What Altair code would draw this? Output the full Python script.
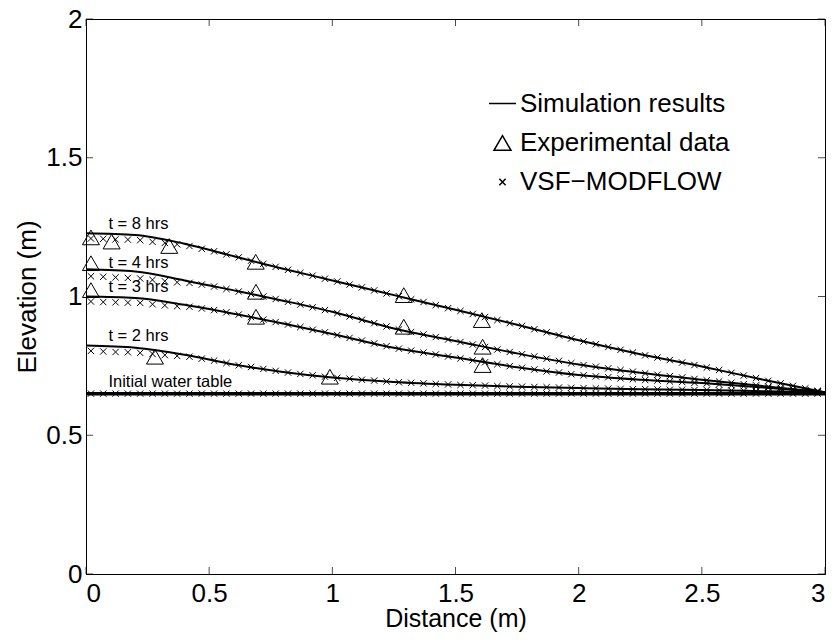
import altair as alt
import pandas as pd

FONT = "Liberation Sans"

# ---- simulation results (solid curves) ----
sim_x = [0.0, 0.2, 0.4, 0.6, 0.8, 1.0, 1.25, 1.5, 1.75, 2.0, 2.25, 2.5, 2.75, 3.0]
sim_t8 = [1.228, 1.222, 1.19, 1.145, 1.10, 1.058, 1.005, 0.952, 0.898, 0.842, 0.792, 0.748, 0.70, 0.655]
sim_t4 = [1.098, 1.09, 1.058, 1.022, 0.985, 0.945, 0.885, 0.84, 0.795, 0.755, 0.725, 0.70, 0.677, 0.655]
sim_t3 = [1.0, 0.995, 0.97, 0.938, 0.903, 0.865, 0.815, 0.78, 0.745, 0.717, 0.70, 0.688, 0.672, 0.655]
sim_t2 = [0.823, 0.815, 0.79, 0.755, 0.728, 0.708, 0.692, 0.682, 0.675, 0.670, 0.666, 0.663, 0.659, 0.655]

# initial water table
wt_x = [0.0, 3.0]
wt_y = [0.65, 0.65]

# ---- VSF-MODFLOW (crosses) ----
vsf_x = [0.02, 0.07, 0.12, 0.17, 0.22, 0.27, 0.32, 0.37, 0.42, 0.47,
         0.52, 0.57, 0.62, 0.67, 0.72, 0.77, 0.82, 0.87, 0.92, 0.97,
         1.02, 1.07, 1.12, 1.17, 1.22, 1.27, 1.32, 1.37, 1.42, 1.47,
         1.52, 1.57, 1.62, 1.67, 1.72, 1.77, 1.82, 1.87, 1.92, 1.97,
         2.02, 2.07, 2.12, 2.17, 2.22, 2.27, 2.32, 2.37, 2.42, 2.47,
         2.52, 2.57, 2.62, 2.67, 2.72, 2.77, 2.82, 2.87, 2.92, 2.97]
vsf_t8 = [1.209, 1.208, 1.206, 1.205, 1.203, 1.197, 1.193, 1.188, 1.182, 1.172,
          1.163, 1.152, 1.141, 1.129, 1.118, 1.107, 1.096, 1.085, 1.075, 1.064,
          1.054, 1.043, 1.033, 1.022, 1.011, 1.001, 0.990, 0.980, 0.969, 0.958,
          0.948, 0.937, 0.926, 0.915, 0.904, 0.894, 0.882, 0.871, 0.860, 0.849,
          0.838, 0.828, 0.818, 0.808, 0.798, 0.788, 0.780, 0.771, 0.762, 0.753,
          0.744, 0.735, 0.725, 0.715, 0.706, 0.696, 0.687, 0.678, 0.669, 0.660]
vsf_t4 = [1.073, 1.071, 1.069, 1.067, 1.065, 1.060, 1.055, 1.051, 1.049, 1.043,
          1.036, 1.027, 1.018, 1.009, 1.000, 0.991, 0.981, 0.971, 0.961, 0.951,
          0.940, 0.928, 0.916, 0.904, 0.892, 0.881, 0.872, 0.863, 0.854, 0.845,
          0.836, 0.827, 0.818, 0.809, 0.800, 0.792, 0.784, 0.776, 0.768, 0.760,
          0.753, 0.747, 0.741, 0.735, 0.729, 0.723, 0.718, 0.713, 0.708, 0.703,
          0.698, 0.694, 0.689, 0.684, 0.680, 0.675, 0.671, 0.666, 0.662, 0.658]
vsf_t3 = [0.982, 0.980, 0.979, 0.978, 0.977, 0.972, 0.968, 0.965, 0.963, 0.957,
          0.951, 0.943, 0.935, 0.926, 0.917, 0.908, 0.899, 0.890, 0.880, 0.871,
          0.861, 0.851, 0.841, 0.831, 0.821, 0.812, 0.805, 0.798, 0.791, 0.784,
          0.777, 0.770, 0.763, 0.756, 0.749, 0.743, 0.737, 0.730, 0.726, 0.720,
          0.716, 0.712, 0.709, 0.705, 0.702, 0.699, 0.697, 0.694, 0.692, 0.689,
          0.687, 0.683, 0.680, 0.677, 0.674, 0.671, 0.667, 0.664, 0.661, 0.657]
vsf_t2 = [0.804, 0.802, 0.800, 0.799, 0.797, 0.793, 0.789, 0.786, 0.783, 0.776,
          0.769, 0.760, 0.752, 0.746, 0.739, 0.732, 0.726, 0.721, 0.716, 0.711,
          0.707, 0.704, 0.700, 0.697, 0.694, 0.691, 0.689, 0.687, 0.685, 0.683,
          0.681, 0.680, 0.679, 0.677, 0.676, 0.675, 0.674, 0.673, 0.672, 0.671,
          0.670, 0.669, 0.668, 0.667, 0.666, 0.666, 0.665, 0.664, 0.664, 0.663,
          0.663, 0.662, 0.661, 0.660, 0.659, 0.658, 0.658, 0.657, 0.656, 0.655]
vsf_wt = [0.65] * len(vsf_x)

# ---- experimental data (triangles) ----
exp_t8_x = [0.02, 0.104, 0.338, 0.689, 1.29, 1.607]
exp_t8_y = [1.213, 1.198, 1.182, 1.125, 1.005, 0.915]
exp_t4_x = [0.02, 0.69, 1.29, 1.61]
exp_t4_y = [1.12, 1.017, 0.891, 0.819]
exp_t3_x = [0.02, 0.69, 1.61]
exp_t3_y = [1.023, 0.927, 0.753]
exp_t2_x = [0.28, 0.99]
exp_t2_y = [0.783, 0.711]

# ---- annotations ----
ann_text = ["t = 8 hrs", "t = 4 hrs", "t = 3 hrs", "t = 2 hrs", "Initial water table"]
ann_x = [0.091, 0.091, 0.091, 0.091, 0.091]
ann_y = [1.261, 1.122, 1.034, 0.858, 0.693]

x_ticks = [0, 0.5, 1, 1.5, 2, 2.5, 3]
y_ticks = [0, 0.5, 1, 1.5, 2]

SERIES = ["Simulation results", "Experimental data", "VSF\u2212MODFLOW"]
CROSS = "M-1,-1L1,1M-1,1L1,-1"

# ---- tables ----
sim_rows = []
for name, ys in [("t8", sim_t8), ("t4", sim_t4), ("t3", sim_t3), ("t2", sim_t2)]:
    for xv, yv in zip(sim_x, ys):
        sim_rows.append({"curve": name, "x": xv, "y": yv})
sim_df = pd.DataFrame(sim_rows)
wt_df = pd.DataFrame({"x": wt_x, "y": wt_y})

pt_rows = []
for ys in [vsf_t8, vsf_t4, vsf_t3, vsf_t2, vsf_wt]:
    for xv, yv in zip(vsf_x, ys):
        pt_rows.append({"series": SERIES[2], "x": xv, "y": yv})
for xs, ys in [(exp_t8_x, exp_t8_y), (exp_t4_x, exp_t4_y), (exp_t3_x, exp_t3_y), (exp_t2_x, exp_t2_y)]:
    for xv, yv in zip(xs, ys):
        pt_rows.append({"series": SERIES[1], "x": xv, "y": yv})
pt_df = pd.DataFrame(pt_rows)

ann_df = pd.DataFrame({"text": ann_text, "x": ann_x, "y": ann_y})
xt_df = pd.DataFrame({"v": x_ticks})
yt_df = pd.DataFrame({"v": y_ticks})

xscale = alt.Scale(domain=[0, 3], nice=False, zero=False)
yscale = alt.Scale(domain=[0, 2], nice=False, zero=False)

X = alt.X("x:Q", scale=xscale, title="Distance (m)",
          axis=alt.Axis(values=x_ticks, format="~g"))
Y = alt.Y("y:Q", scale=yscale, title="Elevation (m)",
          axis=alt.Axis(values=y_ticks, format="~g"))

sim = alt.Chart(sim_df).mark_line(color="black", strokeWidth=2, interpolate="monotone").encode(
    x=X, y=Y, detail="curve:N"
)
wt = alt.Chart(wt_df).mark_line(color="black", strokeWidth=3.5).encode(x=X, y=Y)

leg = alt.Legend(orient="none", legendX=402, legendY=70, title=None, padding=0,
                 labelFont=FONT, labelFontSize=26, labelColor="black", labelLimit=500,
                 labelOffset=3, rowPadding=13, symbolStrokeColor="black",
                 symbolStrokeWidth=1.5, symbolFillColor="transparent")

pts = alt.Chart(pt_df).mark_point(filled=False, color="black", strokeWidth=1, opacity=1).encode(
    x=X, y=Y,
    shape=alt.Shape("series:N", scale=alt.Scale(domain=SERIES, range=["stroke", "triangle-up", CROSS]),
                    legend=leg),
    size=alt.Size("series:N", scale=alt.Scale(type="ordinal", domain=SERIES, range=[729, 289, 40]),
                  legend=leg),
)

ann = alt.Chart(ann_df).mark_text(align="left", baseline="middle", font=FONT, fontSize=16.5,
                                  color="black").encode(
    x=alt.X("x:Q", scale=xscale), y=alt.Y("y:Q", scale=yscale), text="text:N"
)

xt_bot = alt.Chart(xt_df).mark_tick(orient="vertical", size=7, thickness=1, color="black",
                                    yOffset=-3.5).encode(
    x=alt.X("v:Q", scale=xscale), y=alt.datum(0, scale=yscale))
xt_top = alt.Chart(xt_df).mark_tick(orient="vertical", size=7, thickness=1, color="black",
                                    yOffset=3.5).encode(
    x=alt.X("v:Q", scale=xscale), y=alt.datum(2, scale=yscale))
yt_left = alt.Chart(yt_df).mark_tick(orient="horizontal", size=7, thickness=1, color="black",
                                     xOffset=3.5).encode(
    y=alt.Y("v:Q", scale=yscale), x=alt.datum(0, scale=xscale))
yt_right = alt.Chart(yt_df).mark_tick(orient="horizontal", size=7, thickness=1, color="black",
                                      xOffset=-3.5).encode(
    y=alt.Y("v:Q", scale=yscale), x=alt.datum(3, scale=xscale))

chart = alt.layer(wt, sim, pts, ann, xt_bot, xt_top, yt_left, yt_right).properties(
    width=739, height=555,
    autosize=alt.AutoSizeParams(type="none"),
    padding={"left": 78, "top": 11, "right": 4, "bottom": 59},
    background="white",
).configure_view(
    stroke="black", strokeWidth=1
).configure_axis(
    grid=False, ticks=False, domainColor="black", domainWidth=1,
    labelFont=FONT, labelFontSize=26, labelColor="black",
    titleFont=FONT, titleFontSize=26, titleFontWeight="normal", titleColor="black",
).configure_axisX(
    labelPadding=6, titlePadding=0, titleFontSize=25
).configure_axisY(
    labelPadding=4, titlePadding=5
)

chart.save("out.html", embed_options={"renderer": "svg", "actions": False})
